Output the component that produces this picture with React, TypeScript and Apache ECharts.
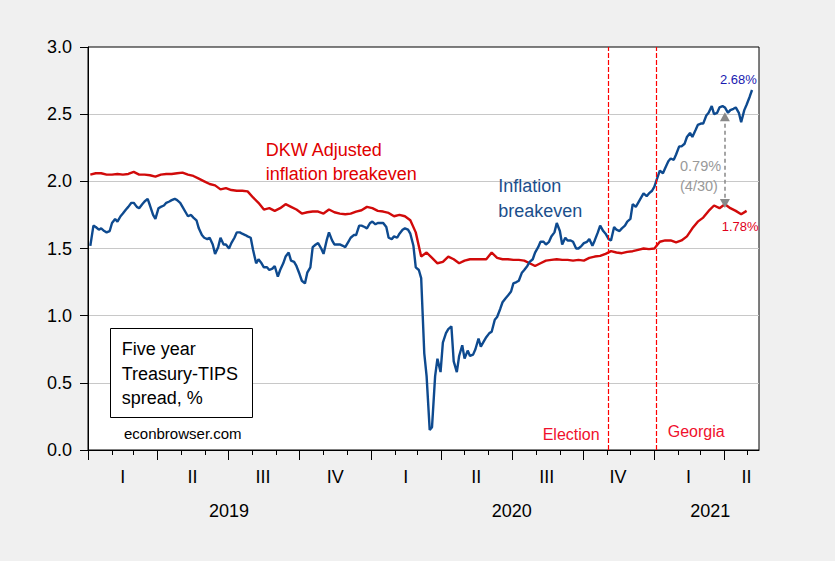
import React, { useEffect, useRef } from "react";
import * as echarts from "echarts";

// ---------- data ----------
// Five-year inflation breakeven (Treasury-TIPS spread), twice-weekly readings starting after BLUE_START
const BLUE_START = "2019-01-01";
const blueValues = [
  1.52, 1.67, 1.66, 1.64, 1.65, 1.63, 1.62, 1.63, 1.69, 1.72,
  1.70, 1.74, 1.76, 1.79, 1.81, 1.84, 1.84, 1.81, 1.80, 1.83,
  1.85, 1.87, 1.82, 1.75, 1.72, 1.80, 1.81, 1.82, 1.84, 1.85,
  1.86, 1.87, 1.86, 1.84, 1.81, 1.77, 1.74, 1.75, 1.73, 1.71,
  1.65, 1.60, 1.58, 1.57, 1.58, 1.53, 1.46, 1.51, 1.58, 1.53,
  1.53, 1.50, 1.54, 1.58, 1.62, 1.62, 1.61, 1.60, 1.59, 1.58,
  1.49, 1.39, 1.42, 1.39, 1.36, 1.36, 1.34, 1.35, 1.37, 1.29,
  1.34, 1.39, 1.44, 1.47, 1.41, 1.40, 1.37, 1.31, 1.26, 1.24,
  1.32, 1.36, 1.51, 1.53, 1.54, 1.50, 1.46, 1.56, 1.62, 1.56,
  1.53, 1.53, 1.53, 1.52, 1.51, 1.55, 1.58, 1.60, 1.60, 1.67,
  1.67, 1.66, 1.65, 1.69, 1.70, 1.68, 1.69, 1.69, 1.69, 1.66,
  1.58, 1.57, 1.59, 1.58, 1.61, 1.64, 1.65, 1.64, 1.61, 1.52,
  1.36, 1.34, 1.28, 0.72, 0.55, 0.15, 0.17, 0.55, 0.68, 0.58,
  0.80, 0.87, 0.90, 0.92, 0.66, 0.58, 0.70, 0.78, 0.68, 0.74,
  0.70, 0.71, 0.75, 0.83, 0.77, 0.81, 0.84, 0.87, 0.88, 0.97,
  0.99, 1.05, 1.10, 1.13, 1.15, 1.18, 1.24, 1.25, 1.26, 1.32,
  1.34, 1.37, 1.40, 1.42, 1.47, 1.51, 1.55, 1.55, 1.53, 1.55,
  1.59, 1.62, 1.69, 1.63, 1.53, 1.58, 1.56, 1.56, 1.55, 1.50,
  1.50, 1.52, 1.54, 1.55, 1.57, 1.52, 1.56, 1.62, 1.67, 1.63,
  1.61, 1.57, 1.56, 1.66, 1.64, 1.63, 1.65, 1.67, 1.70, 1.72,
  1.83, 1.81, 1.84, 1.88, 1.91, 1.89, 1.91, 1.93, 1.96, 2.03,
  2.08, 2.06, 2.10, 2.15, 2.17, 2.16, 2.20, 2.26, 2.26, 2.28,
  2.33, 2.36, 2.33, 2.38, 2.42, 2.43, 2.43, 2.49, 2.51, 2.56,
  2.50, 2.51, 2.55, 2.56, 2.55, 2.51, 2.53, 2.54, 2.55, 2.51,
  2.44, 2.53, 2.57, 2.63, 2.68,
];

// DKW adjusted inflation breakeven, weekly (Fridays) from RED_START
const RED_START = "2019-01-04";
const redValues = [
  2.05, 2.06, 2.06, 2.05, 2.05, 2.055, 2.05, 2.055, 2.07, 2.05,
  2.05, 2.045, 2.035, 2.05, 2.055, 2.055, 2.06, 2.065, 2.05, 2.04,
  2.02, 2.0, 1.98, 1.97, 1.94, 1.95, 1.935, 1.93, 1.93, 1.925,
  1.88, 1.84, 1.79, 1.8, 1.78, 1.8, 1.83, 1.81, 1.79, 1.76,
  1.77, 1.775, 1.775, 1.76, 1.79, 1.77, 1.76, 1.755, 1.76, 1.775,
  1.785, 1.81, 1.8, 1.78, 1.775, 1.765, 1.74, 1.75, 1.74, 1.71,
  1.62, 1.44, 1.47, 1.43, 1.39, 1.4, 1.44, 1.42, 1.39, 1.41,
  1.42, 1.42, 1.42, 1.42, 1.47, 1.43, 1.42, 1.42, 1.415, 1.415,
  1.41, 1.39, 1.37, 1.39, 1.41, 1.415, 1.42, 1.415, 1.415, 1.41,
  1.415, 1.41, 1.43, 1.44, 1.445, 1.46, 1.48, 1.47, 1.465, 1.475,
  1.48, 1.49, 1.5, 1.495, 1.5, 1.55, 1.56, 1.56, 1.545, 1.56,
  1.59, 1.65, 1.7, 1.73, 1.78, 1.82, 1.8, 1.83, 1.8, 1.78,
  1.755, 1.78,
];

const AXIS_MIN = "2019-01-01";
const AXIS_MAX = "2021-05-16";
const monthTicks = [
  "2019-01-01", "2019-02-01", "2019-03-01", "2019-04-01", "2019-05-01", "2019-06-01",
  "2019-07-01", "2019-08-01", "2019-09-01", "2019-10-01", "2019-11-01", "2019-12-01",
  "2020-01-01", "2020-02-01", "2020-03-01", "2020-04-01", "2020-05-01", "2020-06-01",
  "2020-07-01", "2020-08-01", "2020-09-01", "2020-10-01", "2020-11-01", "2020-12-01",
  "2021-01-01", "2021-02-01", "2021-03-01", "2021-04-01", "2021-05-01",
];
const quarterTicks = [
  "2019-01-01", "2019-04-01", "2019-07-01", "2019-10-01",
  "2020-01-01", "2020-04-01", "2020-07-01", "2020-10-01",
  "2021-01-01", "2021-04-01",
];
const quarterLabelDates = [
  "2019-02-15", "2019-05-16", "2019-08-15", "2019-11-16",
  "2020-02-15", "2020-05-16", "2020-08-15", "2020-11-15",
  "2021-02-14", "2021-04-30",
];
const quarterLabels = ["I", "II", "III", "IV", "I", "II", "III", "IV", "I", "II"];
const yearLabelDates = ["2019-07-02", "2020-07-01", "2021-03-14"];
const yearLabels = ["2019", "2020", "2021"];

const eventDates = ["2020-11-03", "2021-01-04"]; // Election, Georgia runoff
const spreadDate = "2021-04-02";
const spreadTop = 2.48;
const spreadBottom = 1.835;

// ---------- helpers ----------
const DAY = 86400000;
const ts = (s: string) => {
  const [y, m, d] = s.split("-").map(Number);
  return Date.UTC(y, m - 1, d);
};
const addDays = (s: string, n: number) => ts(s) + n * DAY;
const FONT = '"Liberation Sans", Arial, sans-serif';

const labelFor = (dates: string[], labels: string[]) => {
  const t = dates.map(ts);
  return (v: number) => {
    for (let i = 0; i < t.length; i++) if (Math.abs(t[i] - v) < DAY / 2) return labels[i];
    return "";
  };
};

export default function App() {
  const ref = useRef<HTMLDivElement>(null);

  useEffect(() => {
    if (!ref.current) return;
    const chart = echarts.init(ref.current, undefined, { renderer: "svg" });

    const blueData = blueValues.map((v, i) => [addDays(BLUE_START, Math.floor(3.5 * (i + 1))), v]);
    const redData = redValues.map((v, i) => [addDays(RED_START, 7 * i), v]);
    const min = ts(AXIS_MIN);
    const max = ts(AXIS_MAX);

    const txt = (text: string, x: number, y: number, size: number, fill: string) => ({
      type: "text",
      x,
      y,
      silent: true,
      z: 100,
      style: { text, fill, font: `${size}px ${FONT}`, align: "left", verticalAlign: "middle" },
    });

    const baseX = {
      type: "value",
      min,
      max,
      position: "bottom",
      splitLine: { show: false },
    };

    const eventLine = { color: "#ff0000", type: [5, 2], width: 1.2, opacity: 1 };

    const option: any = {
      animation: false,
      backgroundColor: "#f0f0f0",
      grid: {
        left: 88,
        top: 47,
        right: 76,
        bottom: 111,
        show: true,
        backgroundColor: "#ffffff",
        borderColor: "#000000",
        borderWidth: 1,
      },
      xAxis: [
        {
          ...baseX,
          axisLine: { show: true, lineStyle: { color: "#000", width: 1 } },
          axisTick: { show: true, customValues: monthTicks.map(ts), length: 5, lineStyle: { color: "#000" } },
          axisLabel: { show: false },
        },
        {
          ...baseX,
          axisLine: { show: false },
          axisTick: { show: true, customValues: quarterTicks.map(ts), length: 10, lineStyle: { color: "#000" } },
          axisLabel: {
            show: true,
            customValues: quarterLabelDates.map(ts),
            formatter: labelFor(quarterLabelDates, quarterLabels),
            fontSize: 18,
            fontFamily: FONT,
            color: "#000",
            margin: 18,
          },
        },
        {
          ...baseX,
          axisLine: { show: false },
          axisTick: { show: false },
          axisLabel: {
            show: true,
            customValues: yearLabelDates.map(ts),
            formatter: labelFor(yearLabelDates, yearLabels),
            fontSize: 18,
            fontFamily: FONT,
            color: "#000",
            margin: 52,
          },
        },
      ],
      yAxis: {
        type: "value",
        min: 0,
        max: 3,
        interval: 0.5,
        axisLine: { show: true, lineStyle: { color: "#000", width: 1 } },
        axisTick: { show: true, length: 8, lineStyle: { color: "#000" } },
        axisLabel: {
          formatter: (v: number) => v.toFixed(1),
          fontSize: 18,
          fontFamily: FONT,
          color: "#000",
          margin: 16,
        },
        splitLine: { show: true, showMinLine: false, showMaxLine: false, lineStyle: { color: "#c8c8c8", width: 1 } },
      },
      series: [
        {
          name: "DKW Adjusted inflation breakeven",
          type: "line",
          xAxisIndex: 0,
          data: redData,
          showSymbol: false,
          lineStyle: { color: "#d10a0a", width: 2.4 },
          itemStyle: { color: "#d10a0a" },
          z: 3,
          markLine: {
            silent: true,
            symbol: ["none", "none"],
            label: { show: false },
            lineStyle: eventLine,
            emphasis: { disabled: true },
            data: eventDates.map((d) => ({ xAxis: ts(d), lineStyle: eventLine })),
          },
        },
        {
          name: "Inflation breakeven",
          type: "line",
          xAxisIndex: 0,
          data: blueData,
          showSymbol: false,
          lineStyle: { color: "#0e4a8f", width: 2.4 },
          itemStyle: { color: "#0e4a8f" },
          z: 4,
          markLine: {
            silent: true,
            symbol: ["triangle", "triangle"],
            symbolSize: [10, 9],
            label: { show: false },
            emphasis: { disabled: true },
            lineStyle: { color: "#888888", type: [4, 3], width: 1.5 },
            data: [[{ coord: [ts(spreadDate), spreadTop] }, { coord: [ts(spreadDate), spreadBottom] }]],
          },
        },
      ],
      graphic: [
        txt("DKW Adjusted", 265.7, 149.8, 18, "#e00000"),
        txt("inflation breakeven", 265.7, 173.8, 18, "#e00000"),
        txt("Inflation", 498.3, 185.5, 18, "#1c4f8c"),
        txt("breakeven", 498.3, 210.5, 18, "#1c4f8c"),
        {
          type: "rect",
          silent: true,
          z: 99,
          shape: { x: 110.5, y: 328.5, width: 142, height: 89 },
          style: { fill: "#ffffff", stroke: "#000000", lineWidth: 1 },
        },
        txt("Five year", 121.7, 348.8, 18, "#000"),
        txt("Treasury-TIPS", 121.7, 373.8, 18, "#000"),
        txt("spread, %", 121.7, 397.8, 18, "#000"),
        txt("econbrowser.com", 124, 433.8, 15, "#000"),
        txt("Election", 542.7, 434.5, 16, "#f0102c"),
        txt("Georgia", 667.7, 431.2, 16, "#f0102c"),
        txt("2.68%", 720, 79.5, 13, "#1a1ab0"),
        txt("1.78%", 721.7, 226.5, 13, "#e0001b"),
        txt("0.79%", 680, 166, 14.5, "#999999"),
        txt("(4/30)", 680, 186, 14.5, "#999999"),
      ],
    };

    chart.setOption(option);
    return () => chart.dispose();
  }, []);

  return <div ref={ref} style={{ position: "fixed", left: 0, top: 0, width: 835, height: 561 }} />;
}
